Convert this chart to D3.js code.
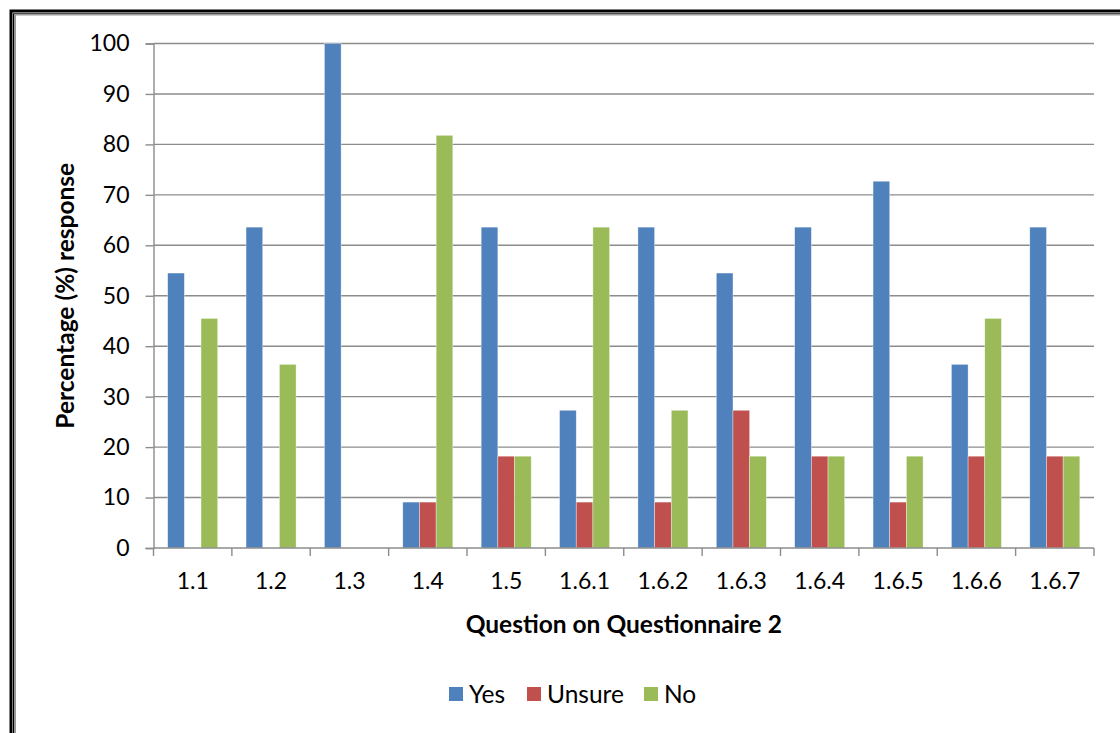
<!DOCTYPE html>
<html>
<head>
<meta charset="utf-8">
<script src="https://d3js.org/d3.v7.min.js"></script>
<style>
  html, body { margin: 0; padding: 0; background: #fff; }
  svg { display: block; font-family: Lato, "Open Sans", "Liberation Sans", sans-serif; }
</style>
</head>
<body>
<svg id="chart" width="1120" height="733"></svg>
<script>
// Questions on questionnaire 2 and the share of responses per answer (%)
const categories = ["1.1", "1.2", "1.3", "1.4", "1.5", "1.6.1", "1.6.2", "1.6.3", "1.6.4", "1.6.5", "1.6.6", "1.6.7"];
const seriesNames = ["Yes", "Unsure", "No"];
const yesValues    = [54.5, 63.6, 100, 9.1, 63.6, 27.3, 63.6, 54.5, 63.6, 72.7, 36.4, 63.6];
const unsureValues = [0, 0, 0, 9.1, 18.2, 9.1, 9.1, 27.3, 18.2, 9.1, 18.2, 18.2];
const noValues     = [45.5, 36.4, 0, 81.8, 18.2, 63.6, 27.3, 18.2, 18.2, 18.2, 45.5, 18.2];
const yTicks = [0, 10, 20, 30, 40, 50, 60, 70, 80, 90, 100];

const colors = ["#4F81BD", "#C0504D", "#9BBB59"];
const seriesValues = [yesValues, unsureValues, noValues];

const svg = d3.select("#chart");

// Double frame around the chart
svg.append("path").attr("d", "M11,733 V11 H1120").attr("fill", "none").attr("stroke", "#000").attr("stroke-width", 3);
svg.append("path").attr("d", "M13.5,733 V13.5 H1120").attr("fill", "none").attr("stroke", "#000").attr("stroke-width", 1);
svg.append("path").attr("d", "M15,733 V14.5 H1120").attr("fill", "none").attr("stroke", "#9a9a9a").attr("stroke-width", 2);

const plot = { left: 153.5, right: 1094, top: 43.5, bottom: 548 };

const x0 = d3.scaleBand().domain(categories).range([plot.left, plot.right]).paddingInner(0).paddingOuter(0);
const groupFrac = 3 / (3 + 1.7);
const x1 = d3.scaleBand().domain(seriesNames)
  .range([0, x0.bandwidth() * groupFrac]).padding(0);
const groupOffset = (x0.bandwidth() - x0.bandwidth() * groupFrac) / 2;
const y = d3.scaleLinear().domain([0, 100]).range([plot.bottom, plot.top]);

// Horizontal gridlines
svg.append("g").selectAll("line").data(yTicks.filter(d => d > 0)).join("line")
  .attr("x1", plot.left).attr("x2", plot.right)
  .attr("y1", d => y(d)).attr("y2", d => y(d))
  .attr("stroke", "#8c8c8c").attr("stroke-width", 1.4);

// Bars
const data = categories.map((c, i) => ({ cat: c, vals: seriesNames.map((s, k) => ({ s, v: seriesValues[k][i], k })) }));
svg.append("g").selectAll("g").data(data).join("g")
  .attr("transform", d => `translate(${x0(d.cat) + groupOffset},0)`)
  .selectAll("rect").data(d => d.vals.filter(e => e.v > 0)).join("rect")
  .attr("x", d => x1(d.s))
  .attr("width", x1.bandwidth())
  .attr("y", d => y(d.v))
  .attr("height", d => y(0) - y(d.v))
  .attr("fill", d => colors[d.k])
  .attr("stroke", "#ffffff").attr("stroke-opacity", 0.6).attr("stroke-width", 0.6);

// Y axis
const yAxis = d3.axisLeft(y).tickValues(yTicks).tickSize(8).tickPadding(16).tickFormat(d3.format("d"));
const gy = svg.append("g").attr("transform", `translate(${plot.left},0)`).call(yAxis);
gy.select(".domain").attr("stroke", "#8c8c8c").attr("stroke-width", 1.4);
gy.selectAll(".tick line").attr("stroke", "#8c8c8c").attr("stroke-width", 1.4);
gy.selectAll(".tick text").attr("font-size", 23).attr("fill", "#000").attr("font-family", "Lato, sans-serif");

// X axis: tick marks at category boundaries, labels centered
const gx = svg.append("g").attr("transform", `translate(0,${plot.bottom})`);
gx.append("line").attr("x1", plot.left).attr("x2", plot.right).attr("y1", 0).attr("y2", 0)
  .attr("stroke", "#8c8c8c").attr("stroke-width", 1.4);
const bounds = categories.map(c => x0(c)).concat([plot.right]);
gx.selectAll("line.tk").data(bounds).join("line").attr("class", "tk")
  .attr("x1", d => d).attr("x2", d => d).attr("y1", 0).attr("y2", 8)
  .attr("stroke", "#8c8c8c").attr("stroke-width", 1.4);
gx.selectAll("text").data(categories).join("text")
  .attr("x", d => x0(d) + x0.bandwidth() / 2).attr("y", 41)
  .attr("text-anchor", "middle").attr("font-size", 23).attr("fill", "#000")
  .text(d => d);

// Axis titles
svg.append("text").attr("x", (plot.left + plot.right) / 2).attr("y", 633)
  .attr("text-anchor", "middle").attr("font-size", 24.5).attr("font-weight", "bold")
  .text("Question on Questionnaire 2");
svg.append("text").attr("transform", `translate(74,${(plot.top + plot.bottom) / 2}) rotate(-90)`)
  .attr("text-anchor", "middle").attr("font-size", 24.5).attr("font-weight", "bold")
  .text("Percentage (%) response");

// Legend
const legendItems = [{ name: "Yes", x: 449 }, { name: "Unsure", x: 527 }, { name: "No", x: 644 }];
const lg = svg.append("g").selectAll("g").data(legendItems).join("g")
  .attr("transform", d => `translate(${d.x},687)`);
lg.append("rect").attr("width", 14).attr("height", 14).attr("fill", (d, i) => colors[i]);
lg.append("text").attr("x", 20).attr("y", 16).attr("font-size", 24.5).text(d => d.name);
</script>
</body>
</html>
